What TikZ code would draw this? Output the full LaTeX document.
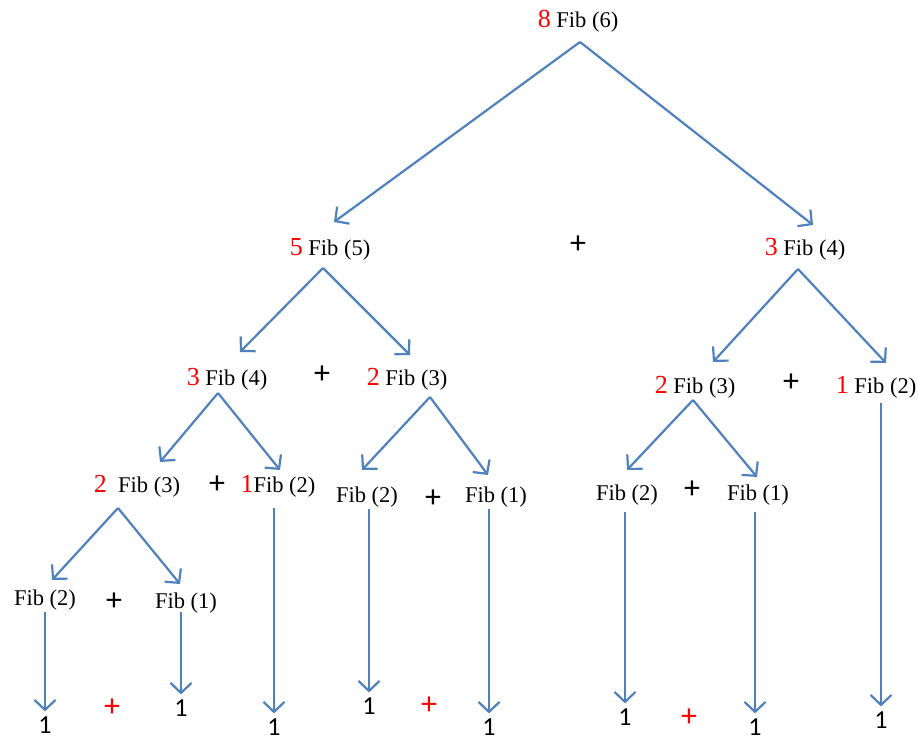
\documentclass[tikz,border=0pt]{standalone}
\usepackage{fontspec}
\setmainfont{Liberation Serif}
\newfontfamily\calfont{Carlito}
\usetikzlibrary{arrows.meta}
\definecolor{callblue}{RGB}{79,129,189}
\newcommand{\rn}[1]{{\fontsize{26}{26}\selectfont\color{red}#1}}
\tikzset{
  fibl/.style={anchor=base, inner sep=0pt, font=\fontsize{22.5}{22.5}\selectfont},
  plus/.style={inner sep=0pt, font=\calfont\fontsize{32}{32}\selectfont},
  redplus/.style={plus, text=red},
  leaf/.style={inner sep=0pt, font=\calfont\fontsize{26}{26}\selectfont},
  call/.style={draw=callblue, line width=2.2pt, -{Straight Barb[length=10pt,width=21pt]}}
}
\begin{document}
\begin{tikzpicture}[x=1pt, y=-1pt]
    \useasboundingbox (0,0) rectangle (918,743);
    % calls, level by level
    \node[fibl] (f6) at (578,28) {\rn{8} Fib (6)};
    \node[fibl] (f5) at (330,256) {\rn{5} Fib (5)};
    \node[plus] (p1) at (578,245) {+};
    \node[fibl] (f4r) at (805,256) {\rn{3} Fib (4)};
    \node[fibl] (f4) at (227,385) {\rn{3} Fib (4)};
    \node[plus] (p2) at (322,375) {+};
    \node[fibl] (f3) at (407,385) {\rn{2} Fib (3)};
    \node[fibl] (f3r) at (695,393) {\rn{2} Fib (3)};
    \node[plus] (p3) at (791,383) {+};
    \node[fibl] (f2r) at (876,393) {\rn{1} Fib (2)};
    \node[fibl] (f3l) at (137,492) {\rn{2}\ \ Fib (3)};
    \node[plus] (p4) at (217,485) {+};
    \node[fibl] (f2m) at (278,492) {\rn{1}Fib (2)};
    \node[fibl] (f2a) at (367,502) {Fib (2)};
    \node[plus] (p5) at (433,499) {+};
    \node[fibl] (f1a) at (496,502) {Fib (1)};
    \node[fibl] (f2b) at (627,500) {Fib (2)};
    \node[plus] (p6) at (692,490) {+};
    \node[fibl] (f1b) at (758,500) {Fib (1)};
    \node[fibl] (f2c) at (45,605) {Fib (2)};
    \node[plus] (p7) at (114,602) {+};
    \node[fibl] (f1c) at (186,608) {Fib (1)};
    % base cases
    \node[leaf] (o1) at (45,725) {1};
    \node[redplus] (q1) at (112,708) {+};
    \node[leaf] (o2) at (181,708) {1};
    \node[leaf] (o3) at (274,727) {1};
    \node[leaf] (o4) at (369,706) {1};
    \node[redplus] (q2) at (429,706) {+};
    \node[leaf] (o5) at (489,727) {1};
    \node[leaf] (o6) at (625,717) {1};
    \node[redplus] (q3) at (689,718) {+};
    \node[leaf] (o7) at (755,727) {1};
    \node[leaf] (o8) at (881,720) {1};
    % split points under each call and the arrow tips
    \coordinate (f6-o) at (580,42);
    \coordinate (f6-l) at (334,222);
    \coordinate (f6-r) at (813,225);
    \coordinate (f5-o) at (323,268);
    \coordinate (f5-l) at (240,352);
    \coordinate (f5-r) at (410,355);
    \coordinate (f4r-o) at (798,269);
    \coordinate (f4r-l) at (713,362);
    \coordinate (f4r-r) at (886,363);
    \coordinate (f4-o) at (218,393);
    \coordinate (f4-l) at (160,462);
    \coordinate (f4-r) at (280,470);
    \coordinate (f3-o) at (430,397);
    \coordinate (f3-l) at (362,470);
    \coordinate (f3-r) at (488,475);
    \coordinate (f3r-o) at (693,400);
    \coordinate (f3r-l) at (627,470);
    \coordinate (f3r-r) at (757,477);
    \coordinate (f3l-o) at (118,508);
    \coordinate (f3l-l) at (52,580);
    \coordinate (f3l-r) at (180,584);
    % branching calls
    \draw[call] (f6-o) -- (f6-l);
    \draw[call] (f6-o) -- (f6-r);
    \draw[call] (f5-o) -- (f5-l);
    \draw[call] (f5-o) -- (f5-r);
    \draw[call] (f4r-o) -- (f4r-l);
    \draw[call] (f4r-o) -- (f4r-r);
    \draw[call] (f4-o) -- (f4-l);
    \draw[call] (f4-o) -- (f4-r);
    \draw[call] (f3-o) -- (f3-l);
    \draw[call] (f3-o) -- (f3-r);
    \draw[call] (f3r-o) -- (f3r-l);
    \draw[call] (f3r-o) -- (f3r-r);
    \draw[call] (f3l-o) -- (f3l-l);
    \draw[call] (f3l-o) -- (f3l-r);
    % Fib(2) and Fib(1) return 1
    \draw[call, shorten >=5pt] (881,403) -- (o8.north);
    \draw[call, shorten >=5pt] (274,508) -- (o3.north);
    \draw[call, shorten >=5pt] (369,509) -- (o4.north);
    \draw[call, shorten >=5pt] (489,509) -- (o5.north);
    \draw[call, shorten >=5pt] (625,512) -- (o6.north);
    \draw[call, shorten >=5pt] (755,512) -- (o7.north);
    \draw[call, shorten >=5pt] (45,612) -- (o1.north);
    \draw[call, shorten >=5pt] (181,612) -- (o2.north);
\end{tikzpicture}
\end{document}
